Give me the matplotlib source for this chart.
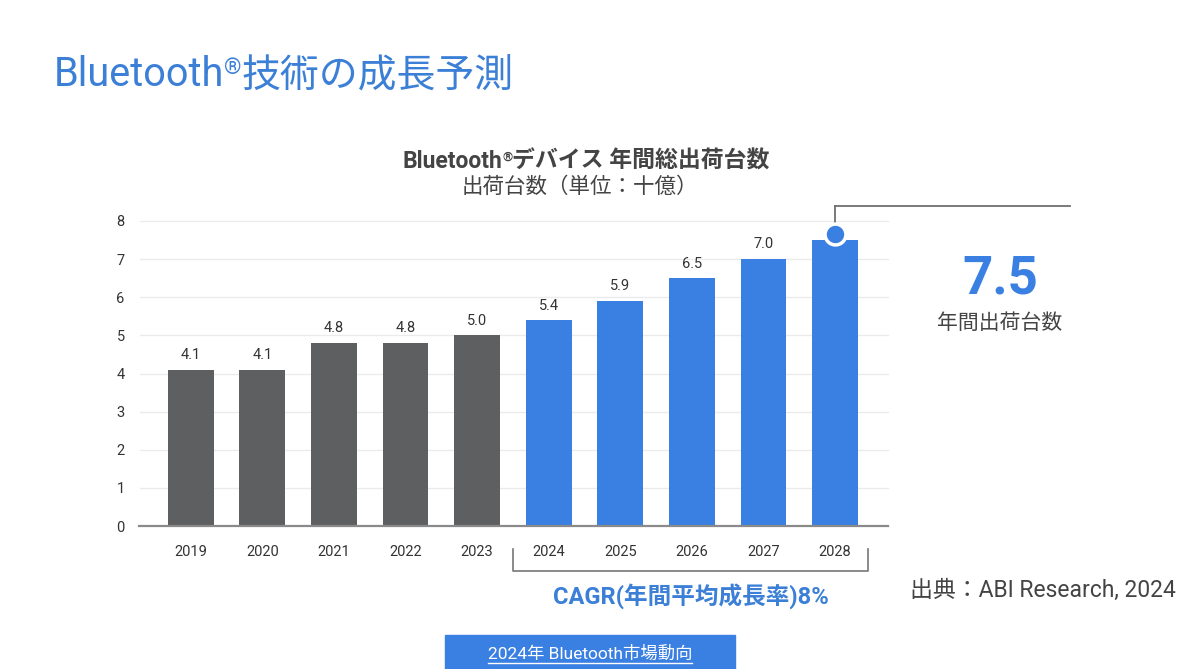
import matplotlib
matplotlib.use("Agg")
import matplotlib.pyplot as plt
from matplotlib.transforms import blended_transform_factory
from matplotlib.lines import Line2D
from matplotlib.patches import Rectangle

plt.rcParams['font.family'] = ['Roboto', 'Noto Sans CJK JP', 'DejaVu Sans']

# ---- data ----
years = ['2019', '2020', '2021', '2022', '2023', '2024', '2025', '2026', '2027', '2028']
shipments = [4.1, 4.1, 4.8, 4.8, 5.0, 5.4, 5.9, 6.5, 7.0, 7.5]
forecast = [False, False, False, False, False, True, True, True, True, True]
y_ticks = [0, 1, 2, 3, 4, 5, 6, 7, 8]

GRAY = '#5e5f61'
BLUE = '#3a80e2'
TITLE_BLUE = '#3b7fd6'
TEXT = '#333333'

W, H = 1200, 669
fig = plt.figure(figsize=(12, 6.69), dpi=100)
fig.patch.set_facecolor('white')

def fx(px):
    return px / W

def fy(py):
    return 1 - py / H

ax = fig.add_axes([fx(140), fy(526), fx(888) - fx(140), fy(221) - fy(526)])
x = list(range(len(years)))
colors = [BLUE if f else GRAY for f in forecast]
ax.bar(x, shipments, width=0.64, color=colors, zorder=3)
ax.set_xlim(-0.71, 9.74)
ax.set_ylim(0, 8)
ax.set_yticks(y_ticks)
ax.set_yticklabels([str(v) for v in y_ticks], fontsize=10.5, color=TEXT)
ax.set_xticks(x)
ax.set_xticklabels(years, fontsize=10.5, color=TEXT)
ax.tick_params(axis='y', length=0, pad=11)
ax.tick_params(axis='x', length=0, pad=14)
for s in ax.spines.values():
    s.set_visible(False)
for v in y_ticks[1:]:
    ax.axhline(v, color='#ebebeb', lw=1, zorder=1, clip_on=False)
ax.plot([-0.73, 9.74], [0, 0], color='#8a8a8a', lw=1.6, zorder=4, clip_on=False)

for xi, v in zip(x, shipments):
    if xi == len(x) - 1:
        continue
    ax.text(xi, v + 0.2, f'{v:.1f}', ha='center', va='bottom', fontsize=10.5, color=TEXT)

# highlight of last value
last_x = x[-1]
last_v = shipments[-1]
cy = last_v + 0.17
ax.plot([last_x, last_x], [cy, 8.4], color='#707070', lw=1.3, clip_on=False, zorder=4)
ax.plot([last_x, 12.28], [8.4, 8.4], color='#707070', lw=1.3, clip_on=False, zorder=4)
ax.plot([last_x], [cy], marker='o', markersize=15, color=BLUE, markeredgecolor='white',
        markeredgewidth=2.5, clip_on=False, zorder=6)

fig.text(fx(1000), fy(279), f'{last_v:.1f}', ha='center', va='center', fontsize=38,
         fontweight='bold', color=BLUE)
fig.text(fx(1000), fy(323), '年間出荷台数', ha='center', va='center', fontsize=15, color='#444444')

# bracket for forecast years
tr = blended_transform_factory(ax.transData, fig.transFigure)
first_fc = forecast.index(True)
bx0, bx1 = first_fc - 0.5, last_x + 0.46
fig.add_artist(Line2D([bx0, bx0, bx1, bx1], [fy(549), fy(571), fy(571), fy(549)],
                      transform=tr, color='#777777', lw=1.2))
fig.text((bx0 + bx1) / 2, fy(596), 'CAGR(年間平均成長率)8%', transform=tr, ha='center', va='center',
         fontsize=17, fontweight='bold', color=TITLE_BLUE)

# rich text helper (for superscript ®)
renderer = fig.canvas.get_renderer()

def rich(pieces, px, py, ha='left', color=TEXT):
    arts = []
    for txt, size, weight, dy in pieces:
        t = fig.text(0, 0, txt, fontsize=size, fontweight=weight, color=color, va='baseline')
        arts.append((t, dy))
    widths = [t.get_window_extent(renderer).width for t, _ in arts]
    total = sum(widths)
    start = px - total / 2 if ha == 'center' else px
    cur = start
    for (t, dy), w in zip(arts, widths):
        t.set_position((fx(cur), fy(py - dy)))
        cur += w

# main title
rich([('Bluetooth', 28.5, 'normal', 0), ('®', 16, 'normal', 12), ('技術の成長予測', 28, 'normal', 0)],
     54, 86, color=TITLE_BLUE)

# chart title
rich([('Bluetooth', 16.5, 'bold', 0), ('®', 9.5, 'bold', 7), ('デバイス 年間総出荷台数', 16.5, 'bold', 0)],
     586, 168, ha='center', color='#444444')
fig.text(fx(580), fy(187), '出荷台数（単位：十億）', ha='center', va='center', fontsize=15.5, color='#444444')

# source
fig.text(fx(910), fy(590), '出典：ABI Research, 2024', ha='left', va='center', fontsize=16.5, color='#444444')

# bottom button
fig.add_artist(Rectangle((fx(445), 0), fx(735) - fx(445), fy(635), transform=fig.transFigure,
                         color=BLUE, zorder=0))
bt = fig.text(fx(590), fy(654), '2024年 Bluetooth市場動向', ha='center', va='center', fontsize=12.5,
              color='white')
bb = bt.get_window_extent(renderer)
fig.add_artist(Line2D([bb.x0 / W, bb.x1 / W], [bb.y0 / H - 0.002, bb.y0 / H - 0.002],
                      transform=fig.transFigure, color='white', lw=1))

fig.savefig('out.png', dpi=100)
